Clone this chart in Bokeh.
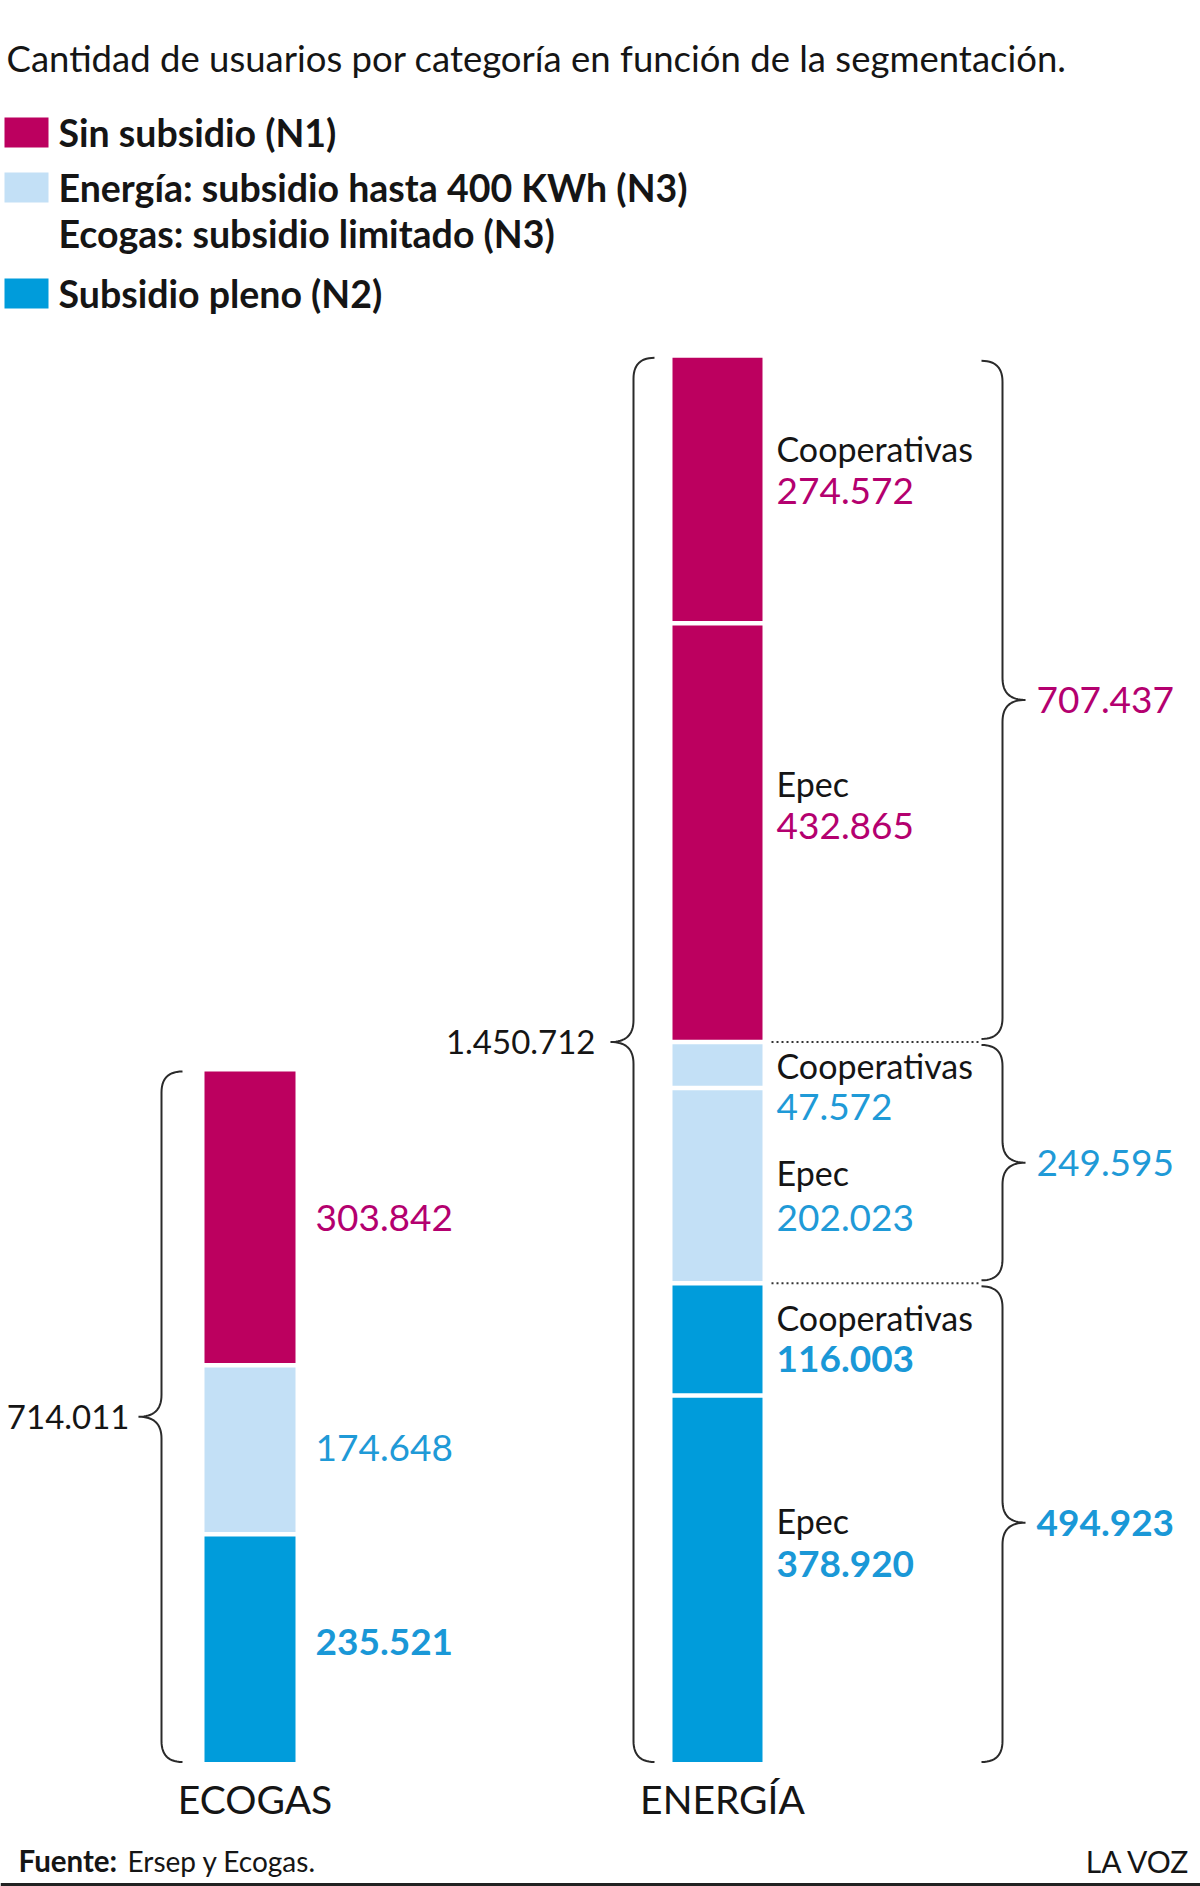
from bokeh.plotting import figure
from bokeh.models import Range1d, ColumnDataSource
from bokeh.core.properties import value
from bokeh.embed import file_html
from bokeh.resources import INLINE

# ---------------- data ----------------
categories = ["ECOGAS", "ENERGÍA"]

ecogas_groups = ["N2", "N3", "N1"]
ecogas_values = [235521, 174648, 303842]
ecogas_total_label = "714.011"

energia_names = ["Epec", "Cooperativas", "Epec", "Cooperativas", "Epec", "Cooperativas"]
energia_groups = ["N2", "N2", "N3", "N3", "N1", "N1"]
energia_values = [378920, 116003, 202023, 47572, 432865, 274572]
energia_total_label = "1.450.712"

group_order = ["N2", "N3", "N1"]
legend_labels = ["Sin subsidio (N1)",
                 "Energía: subsidio hasta 400 KWh (N3)",
                 "Subsidio pleno (N2)"]
legend_extra = "Ecogas: subsidio limitado (N3)"
title_text = "Cantidad de usuarios por categoría en función de la segmentación."
source_bold = "Fuente:"
source_text = "Ersep y Ecogas."
brand = "LA VOZ"

# ---------------- style ----------------
FONT = "Lato"
BAR_COL = {"N1": "#BC005F", "N3": "#C3E0F6", "N2": "#009CDB"}
TXT_COL = {"N1": "#B4006F", "N3": "#1F9AD7", "N2": "#1A98D7"}
TXT_STYLE = {"N1": "normal", "N3": "normal", "N2": "bold"}
INK = "#151515"

W, H = 1200, 1886
UPP = 1034.0          # users per screen pixel
BASE_PX = 1761.5      # screen row of value 0
GAP = 4.5 * UPP

VAL_SIZE = 37
NAME_SIZE = 34
TOT_SIZE = 33

def fmt(v):
    return f"{v:,}".replace(",", ".")

p = figure(width=W, height=H, x_range=Range1d(0, W),
           y_range=Range1d(-(H - BASE_PX) * UPP, BASE_PX * UPP),
           output_backend="svg", toolbar_location=None,
           x_axis_location=None, y_axis_location=None, min_border=0)
p.grid.visible = False
p.outline_line_color = None
p.background_fill_color = "white"
p.border_fill_color = "white"
p.extra_y_ranges = {"px": Range1d(H, 0)}

def txt(x, y, t, size, color=INK, style="normal", align="left", rng="px", **kw):
    p.text(x=[x], y=[y], text=[t], text_font=value(FONT),
           text_font_size=value(f"{size}px"), text_color=color,
           text_font_style=style, text_align=align, text_baseline="middle",
           y_range_name=rng if rng else "default", **kw)

# ---------------- stacked bars ----------------
def stack(values):
    bots, tops, c = [], [], 0
    for i, v in enumerate(values):
        b, t = c, c + v
        bots.append(b + (GAP / 2 if i > 0 else 0))
        tops.append(t - (GAP / 2 if i < len(values) - 1 else 0))
        c = t
    return bots, tops

bar_x = {"ECOGAS": 249.5, "ENERGÍA": 717.0}
bar_w = {"ECOGAS": 91, "ENERGÍA": 90}

eb, et = stack(ecogas_values)
p.vbar(source=ColumnDataSource(dict(
    x=[bar_x["ECOGAS"]] * 3, b=eb, t=et,
    c=[BAR_COL[g] for g in ecogas_groups])),
    x="x", bottom="b", top="t", width=bar_w["ECOGAS"], fill_color="c", line_color=None)

nb, nt = stack(energia_values)
p.vbar(source=ColumnDataSource(dict(
    x=[bar_x["ENERGÍA"]] * 6, b=nb, t=nt,
    c=[BAR_COL[g] for g in energia_groups])),
    x="x", bottom="b", top="t", width=bar_w["ENERGÍA"], fill_color="c", line_color=None)

# ---------------- braces ----------------
def quad(p0, p1, p2, n=14):
    out = []
    for i in range(n + 1):
        s = i / n
        out.append(((1-s)**2*p0[0] + 2*(1-s)*s*p1[0] + s*s*p2[0],
                    (1-s)**2*p0[1] + 2*(1-s)*s*p1[1] + s*s*p2[1]))
    return out

def cubic(p0, p1, p2, p3, n=16):
    out = []
    for i in range(n + 1):
        s = i / n
        a, b, c, d = (1-s)**3, 3*(1-s)**2*s, 3*(1-s)*s*s, s**3
        out.append((a*p0[0]+b*p1[0]+c*p2[0]+d*p3[0], a*p0[1]+b*p1[1]+c*p2[1]+d*p3[1]))
    return out

def brace(xv, lo, hi, tip, side, depth=23, curl=21, tipr=22):
    ry, t = curl * UPP, tipr * UPP
    ex, tx = xv - side * curl, xv + side * depth
    pts = []
    pts += quad((ex, hi), (xv, hi), (xv, hi - ry))
    pts += [(xv, tip + t)]
    pts += cubic((xv, tip + t), (xv, tip + 0.3 * t), (xv + side * 0.35 * depth, tip), (tx, tip))
    pts += cubic((tx, tip), (xv + side * 0.35 * depth, tip), (xv, tip - 0.3 * t), (xv, tip - t))
    pts += [(xv, lo + ry)]
    pts += quad((xv, lo + ry), (xv, lo), (ex, lo))
    p.line([q[0] for q in pts], [q[1] for q in pts], line_color="#2a2a2a", line_width=2)

eco_total = sum(ecogas_values)
ene_total = sum(energia_values)
brace(161, 0, eco_total, eco_total / 2, -1)

group_sum = {g: sum(v for v, gg in zip(energia_values, energia_groups) if gg == g) for g in group_order}
cum, bounds = 0, {}
for g in group_order:
    bounds[g] = (cum, cum + group_sum[g])
    cum += group_sum[g]
ene_tip = bounds["N1"][0]
brace(633, 0, ene_total, ene_tip, -1)

INSET = 3 * UPP
for g in group_order:
    lo, hi = bounds[g]
    brace(1002, lo + (INSET if lo > 0 else 0), hi - INSET, (lo + hi) / 2, +1)
    txt(1036, (lo + hi) / 2, fmt(group_sum[g]), VAL_SIZE, TXT_COL[g], TXT_STYLE[g], rng=None)

# dotted separators between groups
for g in ["N3", "N1"]:
    y0 = bounds[g][0]
    p.line([771, 978], [y0, y0], line_color="#333333", line_width=2, line_dash="2 3")

# totals
txt(129, eco_total / 2, ecogas_total_label, TOT_SIZE, INK, rng=None, align="right")
txt(595, ene_tip, energia_total_label, TOT_SIZE, INK, rng=None, align="right")

# ---------------- segment labels ----------------
eco_dy = [-6, -2, 0]
c = 0
for v, g, dy in zip(ecogas_values, ecogas_groups, eco_dy):
    txt(315, c + v / 2, fmt(v), VAL_SIZE, TXT_COL[g], TXT_STYLE[g], rng=None, y_offset=dy)
    c += v

name_dy = [-58, -22, -13, 1, -49, -42]
val_dy = [-15, 20, 32, 42, -7, 0]
c = 0
for v, g, nm, ndy, vdy in zip(energia_values, energia_groups, energia_names, name_dy, val_dy):
    mid = c + v / 2
    txt(776, mid, nm, NAME_SIZE, INK, rng=None, y_offset=ndy)
    txt(776, mid, fmt(v), VAL_SIZE, TXT_COL[g], TXT_STYLE[g], rng=None, y_offset=vdy)
    c += v

# category labels
for cat in categories:
    txt(bar_x[cat] + 5, 1798, cat, 39, INK, align="center")

# ---------------- header ----------------
txt(6, 57, title_text, 36.5, INK)
leg_groups = ["N1", "N3", "N2"]
leg_y = [132, 187, 293]
p.rect(x=[26] * 3, y=leg_y, width=44, height=30,
       fill_color=[BAR_COL[g] for g in leg_groups], line_color=None, y_range_name="px")
for lab, y in zip(legend_labels, leg_y):
    txt(58, y, lab, 37.5, INK, "bold")
txt(58, 233, legend_extra, 37.5, INK, "bold")

# ---------------- footer ----------------
txt(18, 1860, source_bold, 29.5, INK, "bold")
txt(127, 1860, source_text, 28, INK)
txt(1190, 1860, brand, 30, INK, align="right")
p.line([0, W], [1884, 1884], line_color="#222222", line_width=3, y_range_name="px")

open("out.html", "w").write(file_html(p, INLINE))
